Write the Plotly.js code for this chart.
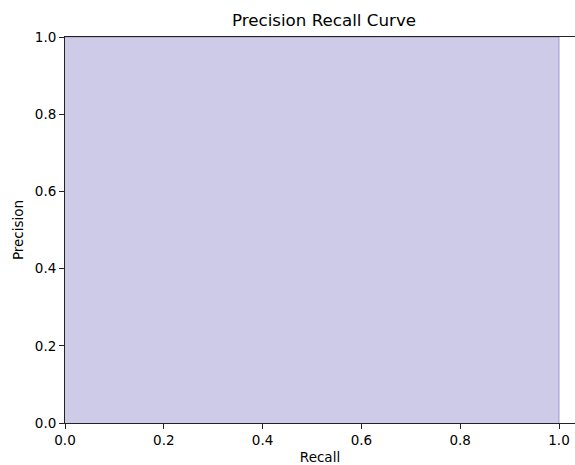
<!DOCTYPE html>
<html>
<head>
<meta charset="utf-8">
<script src="https://cdn.plot.ly/plotly-3.0.1.min.js"></script>
<style>html,body{margin:0;padding:0;background:#fff;}#chart{width:575px;height:465px;}</style>
</head>
<body>
<div id="chart"></div>
<script>
// Precision-recall curve data (step)
const recall = [0.0, 1.0, 1.0];
const precision = [1.0, 1.0, 0.0];
const tickVals = [0.0, 0.2, 0.4, 0.6, 0.8, 1.0];
const tickText = ["0.0", "0.2", "0.4", "0.6", "0.8", "1.0"];

const font = "DejaVu Sans, sans-serif";

const trace = {
  x: recall,
  y: precision,
  type: "scatter",
  mode: "lines",
  line: {shape: "hv", color: "rgba(150,145,205,0.9)", width: 1},
  fill: "tozeroy",
  fillcolor: "rgb(206,203,232)",
  hoverinfo: "x+y",
  showlegend: false
};

const layout = {
  width: 575,
  height: 465,
  margin: {l: 65, r: 0, t: 37, b: 42, pad: 0},
  paper_bgcolor: "#ffffff",
  plot_bgcolor: "#ffffff",
  font: {family: font, size: 13.5, color: "#000"},
  title: {
    text: "Precision Recall Curve",
    font: {family: font, size: 16.7, color: "#000"},
    xref: "container", x: 324 / 575, xanchor: "center",
    yref: "container", y: 1 - 20 / 465, yanchor: "middle"
  },
  xaxis: {
    range: [0, 510 / 494],
    tickvals: tickVals,
    ticktext: tickText,
    ticks: "outside", ticklen: 5, tickwidth: 1, tickcolor: "#222",
    showline: true, linecolor: "#222", linewidth: 1, mirror: true,
    showgrid: false, zeroline: false,
    tickfont: {family: font, size: 13.5, color: "#000"},
    title: {text: "Recall", font: {family: font, size: 13.5, color: "#000"}, standoff: 6}
  },
  yaxis: {
    range: [0, 1],
    tickvals: tickVals,
    ticktext: tickText,
    ticks: "outside", ticklen: 5, tickwidth: 1, tickcolor: "#222",
    showline: true, linecolor: "#222", linewidth: 1, mirror: false,
    showgrid: false, zeroline: false,
    tickfont: {family: font, size: 13.5, color: "#000"},
    title: {text: "Precision", font: {family: font, size: 13.5, color: "#000"}, standoff: 8}
  }
};

Plotly.newPlot("chart", [trace], layout, {displayModeBar: false, staticPlot: false});
</script>
</body>
</html>
